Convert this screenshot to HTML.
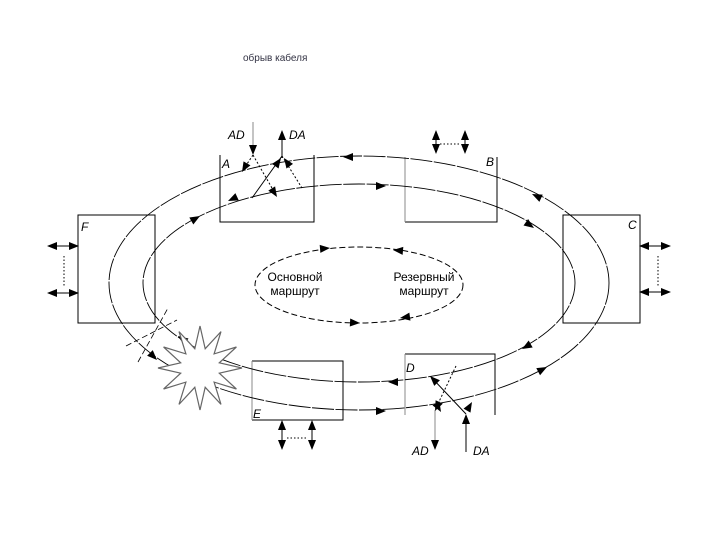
<!DOCTYPE html>
<html><head><meta charset="utf-8"><style>
html,body{margin:0;padding:0;background:#fff;}
svg{display:block;}
text{font-family:"Liberation Sans",sans-serif;}
.it{font-style:italic;font-size:12px;}
</style></head><body>
<svg width="720" height="540" viewBox="0 0 720 540" xmlns="http://www.w3.org/2000/svg">
<defs><path id="ar" d="M0,0 L-10,-4 L-10,4Z" fill="#000"/></defs>
<text x="243" y="61" font-size="10" fill="#334">обрыв кабеля</text>

<!-- boxes -->
<g fill="none" stroke="#000" stroke-width="1">
<path d="M220,155 V222 H314 V155"/>
<path d="M497,157 V222 H405"/><path d="M405,157 V222" stroke="#888"/>
<rect x="563" y="215" width="77" height="108"/>
<rect x="78" y="215" width="77" height="108"/>
<path d="M252,361 H343 V420 H252"/><path d="M252,361 V420" stroke="#888"/>
<path d="M405,354 H495 V415"/><path d="M405,354 V415" stroke="#888"/>
</g>

<!-- rings -->
<ellipse cx="359" cy="283" rx="250" ry="127" fill="none" stroke="#000" stroke-width="0.9" stroke-dasharray="22,1.5"/>
<ellipse cx="359" cy="283" rx="216" ry="99" fill="none" stroke="#000" stroke-width="0.9" stroke-dasharray="22,1.5"/>
<ellipse cx="359" cy="285" rx="104" ry="38" fill="none" stroke="#000" stroke-width="1" stroke-dasharray="6,3"/>

<!-- ring arrows -->
<use href="#ar" transform="translate(343,157) rotate(180)"/>
<use href="#ar" transform="translate(228,201) rotate(155)"/>
<use href="#ar" transform="translate(157,360) rotate(45)"/>
<use href="#ar" transform="translate(386,411) rotate(0)"/>
<use href="#ar" transform="translate(547,367) rotate(-28)"/>
<use href="#ar" transform="translate(532,194) rotate(205)"/>
<use href="#ar" transform="translate(386,186) rotate(0)"/>
<use href="#ar" transform="translate(200,216) rotate(-30)"/>
<use href="#ar" transform="translate(534,228) rotate(35)"/>
<use href="#ar" transform="translate(522,349) rotate(150)"/>
<use href="#ar" transform="translate(388,382) rotate(180)"/>
<use href="#ar" transform="translate(178,336) rotate(215)"/>
<use href="#ar" transform="translate(330,248) rotate(-5)"/>
<use href="#ar" transform="translate(393,250) rotate(185)"/>
<use href="#ar" transform="translate(360,323) rotate(3)"/>
<use href="#ar" transform="translate(400,318) rotate(172)"/>

<text x="295" y="281" font-size="12" text-anchor="middle">Основной</text>
<text x="295" y="295" font-size="12" text-anchor="middle">маршрут</text>
<text x="424" y="281" font-size="12" text-anchor="middle">Резервный</text>
<text x="424" y="295" font-size="12" text-anchor="middle">маршрут</text>

<!-- break cross lines -->
<g stroke="#000" stroke-width="0.8" stroke-dasharray="6,3">
<line x1="126" y1="346" x2="177" y2="320"/>
<line x1="138" y1="362" x2="168" y2="308"/>
</g>
<!-- star -->
<polygon fill="#fff" stroke="#666" stroke-width="1.2" points="242,368 219.3,362.8 236.4,347 214.1,353.9 221,331.6 205.2,348.7 200,326 194.8,348.7 179,331.6 185.9,353.9 163.6,347 180.7,362.8 158,368 180.7,373.2 163.6,389 185.9,382.1 179,404.4 194.8,387.3 200,410 205.2,387.3 221,404.4 214.1,382.1 236.4,389 219.3,373.2"/>

<!-- A I/O -->
<g stroke="#000" stroke-width="1" fill="none">
<line x1="253" y1="122" x2="253" y2="150" stroke="#888"/>
<line x1="282" y1="158" x2="282" y2="135"/>
<line x1="282" y1="156" x2="252" y2="198"/>
<line x1="253" y1="155" x2="243" y2="170" stroke-dasharray="2,2"/>
<line x1="253" y1="155" x2="276" y2="195" stroke-dasharray="2,2"/>
<line x1="282" y1="156" x2="302" y2="188" stroke-dasharray="2,2"/>
</g>
<use href="#ar" transform="translate(253,155) rotate(90)"/>
<use href="#ar" transform="translate(282,130) rotate(-90)"/>
<use href="#ar" transform="translate(242,172) rotate(120)"/>
<use href="#ar" transform="translate(277,197) rotate(58)"/>
<use href="#ar" transform="translate(281,158) rotate(-55)"/>
<use href="#ar" transform="translate(284,158) rotate(-125)"/>
<text class="it" x="228" y="139">AD</text><text class="it" x="289" y="139">DA</text>
<text class="it" x="222" y="168">A</text><text class="it" x="486" y="166">B</text>
<text class="it" x="628" y="229">C</text><text class="it" x="81" y="231">F</text>
<text class="it" x="406" y="372">D</text><text class="it" x="253" y="418">E</text>
<text class="it" x="412" y="455">AD</text><text class="it" x="473" y="455">DA</text>

<!-- io -->
<g stroke="#000" fill="none" stroke-width="1">
<line x1="436" y1="134" x2="436" y2="150"/><line x1="465" y1="134" x2="465" y2="150"/>
<line x1="440" y1="144" x2="461" y2="144" stroke-dasharray="1.5,2"/>
<line x1="51" y1="246" x2="75" y2="246"/><line x1="51" y1="293" x2="75" y2="293"/>
<line x1="64" y1="256" x2="64" y2="287" stroke-dasharray="1.5,2"/>
<line x1="643" y1="246" x2="667" y2="246"/><line x1="643" y1="292" x2="667" y2="292"/>
<line x1="658" y1="256" x2="658" y2="286" stroke-dasharray="1.5,2"/>
<line x1="282" y1="424" x2="282" y2="446"/><line x1="312" y1="424" x2="312" y2="446"/>
<line x1="287" y1="438" x2="307" y2="438" stroke-dasharray="1.5,2"/>
<line x1="435" y1="410" x2="435" y2="445" stroke="#888"/>
<line x1="466" y1="452" x2="466" y2="417"/>
<line x1="466" y1="414" x2="432" y2="378"/>
<line x1="456" y1="366" x2="436" y2="408" stroke-dasharray="2,2"/>
</g>
<g>
<use href="#ar" transform="translate(436,130) rotate(-90)"/><use href="#ar" transform="translate(436,154) rotate(90)"/>
<use href="#ar" transform="translate(465,130) rotate(-90)"/><use href="#ar" transform="translate(465,154) rotate(90)"/>
<use href="#ar" transform="translate(47,246) rotate(180)"/><use href="#ar" transform="translate(79,246)"/>
<use href="#ar" transform="translate(47,293) rotate(180)"/><use href="#ar" transform="translate(79,293)"/>
<use href="#ar" transform="translate(639,246) rotate(180)"/><use href="#ar" transform="translate(671,246)"/>
<use href="#ar" transform="translate(639,292) rotate(180)"/><use href="#ar" transform="translate(671,292)"/>
<use href="#ar" transform="translate(282,420) rotate(-90)"/><use href="#ar" transform="translate(282,450) rotate(90)"/>
<use href="#ar" transform="translate(312,420) rotate(-90)"/><use href="#ar" transform="translate(312,450) rotate(90)"/>
<use href="#ar" transform="translate(435,450) rotate(90)"/>
<use href="#ar" transform="translate(466,414) rotate(-90)"/>
<use href="#ar" transform="translate(430,376) rotate(-135)"/>
<use href="#ar" transform="translate(435,411) rotate(115)"/>
<use href="#ar" transform="translate(441,412) rotate(60)"/>
<use href="#ar" transform="translate(472,402) rotate(-60)"/>
</g>
</svg>
</body></html>
